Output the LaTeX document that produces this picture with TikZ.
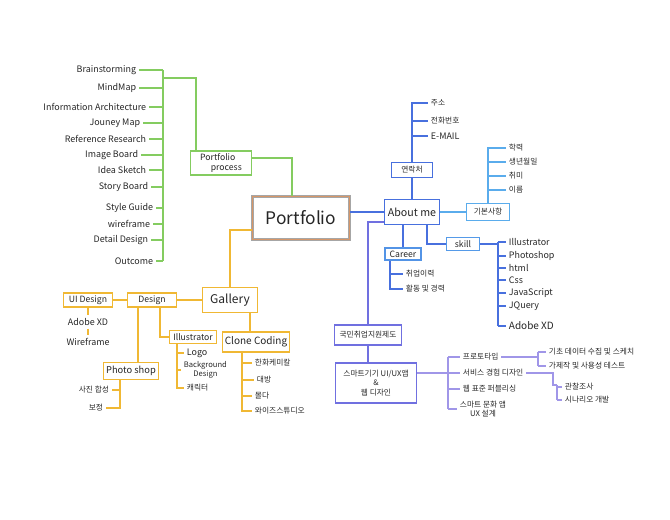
\documentclass[tikz,border=0pt]{standalone}
\usepackage{fontspec}
\setmainfont{Noto Sans CJK KR}
\usetikzlibrary{positioning}
\definecolor{grn}{RGB}{132,204,96}
\definecolor{org}{RGB}{240,184,52}
\definecolor{blu}{RGB}{72,112,222}
\definecolor{lblu}{RGB}{90,172,236}
\definecolor{pur}{RGB}{112,112,224}
\definecolor{lpur}{RGB}{160,150,232}
\tikzset{
  item/.style={inner sep=2pt, text=black!85, font=\fontsize{6.7}{7.5}\selectfont},
  kitem/.style={item, font=\fontsize{5.8}{6.8}\selectfont},
  box/.style={draw, line width=1pt, fill=white, inner sep=2pt, text=black!85, align=center, font=\fontsize{6.5}{7.5}\selectfont},
  gbox/.style={box, draw=grn},
  obox/.style={box, draw=org},
  bbox/.style={box, draw=blu},
  lbbox/.style={box, draw=lblu},
  pbox/.style={box, draw=pur},
  gline/.style={draw=grn, line width=1.3pt},
  oline/.style={draw=org, line width=1.3pt},
  bline/.style={draw=blu, line width=1.3pt},
  lbline/.style={draw=lblu, line width=1.3pt},
  pline/.style={draw=pur, line width=1.3pt},
  lpline/.style={draw=lpur, line width=1.3pt}
}
\begin{document}
\begin{tikzpicture}[x=0.75pt,y=0.75pt,yscale=-1,xscale=1]
\useasboundingbox (0,0) rectangle (670,520);

% Centre
\node[draw=gray!70, double={rgb,255:red,214;green,150;blue,104}, double distance=0.6pt, line width=0.8pt, fill=white, minimum width=73pt, minimum height=32pt, font=\fontsize{13}{15}\selectfont, text=black!85] (port) at (301,218) {Portfolio};

%% Portfolio process (green)
\node[item,anchor=east] (bs) at (139,70) {Brainstorming};
\node[item,anchor=east] (mm) at (139,88) {MindMap};
\node[item,anchor=east] (ia) at (149,107) {Information Architecture};
\node[item,anchor=east] (jm) at (143,123) {Jouney Map};
\node[item,anchor=east] (rr) at (149,139) {Reference Research};
\node[item,anchor=east] (ib) at (141,155) {Image Board};
\node[item,anchor=east] (is) at (149,170) {Idea Sketch};
\node[item,anchor=east] (sb) at (151,187) {Story Board};
\node[item,anchor=east] (sg) at (156,208) {Style Guide};
\node[item,anchor=east] (wf) at (153,224) {wireframe};
\node[item,anchor=east] (dd) at (151,240) {Detail Design};
\node[item,anchor=east] (oc) at (156,261) {Outcome};
\coordinate (gtr) at (163,70);
\coordinate (gbr) at (163,78);
\draw[gline] (gtr) -- (gtr |- oc.east);
\foreach \n in {bs,mm,ia,jm,rr,ib,is,sb,sg,wf,dd,oc}
  \draw[gline] (\n.east) -- (gtr |- \n.east);

\node[gbox, align=left, minimum width=46pt] (pp) at (221,163) {Portfolio\\\hspace{8pt}process};
\draw[gline] (gbr) -| ([xshift=-19pt]pp.north);
\draw[gline] ([yshift=-4pt]pp.east) -| ([xshift=-7pt]port.north);

%% Gallery (orange)
\node[obox, font=\fontsize{9}{10}\selectfont, minimum width=41pt, minimum height=19pt] (gal) at (230,300) {Gallery};
\node[obox, minimum width=37pt] (des) at (152,300) {Design};
\node[obox, minimum width=37pt] (uid) at (88,300) {UI Design};
\node[item] (axd) at (88,322) {Adobe XD};
\node[item] (wfr) at (88,342) {Wireframe};
\node[obox, font=\fontsize{7}{8}\selectfont, minimum width=40pt, minimum height=13pt] (ps) at (131,371) {Photo shop};
\node[obox, minimum width=35pt] (ill) at (193,337) {Illustrator};
\node[obox, font=\fontsize{7.5}{9}\selectfont, minimum width=47pt, minimum height=15pt] (cc) at (256,342) {Clone Coding};

\draw[oline] ([yshift=9pt]port.west) -| (gal.north);
\draw[oline] (gal.west) -- (des.east);
\draw[oline] (des.west) -- (uid.east);
\draw[oline] (uid.south) -- (axd.north);
\draw[oline] (axd.south) -- (wfr.north);
\draw[oline] ([xshift=-10.5pt]des.south) -- ([xshift=5.25pt]ps.north);
\draw[oline] ([xshift=6pt]des.south) |- (ill.west);
\draw[oline] ([xshift=15pt]gal.south) -- ([xshift=-4.5pt]cc.north);

% Photo shop
\node[kitem,anchor=east] (sp) at (112,390) {사진 합성};
\node[kitem,anchor=east] (bj) at (106,408) {보정};
\coordinate (pstr) at (120,0);
\draw[oline] (pstr |- ps.south) |- (bj.east);
\draw[oline] (sp.east) -- (pstr |- sp.east);

% Illustrator
\node[item,anchor=west] (logo) at (184,353) {Logo};
\node[item,anchor=west,align=center,font=\fontsize{5.7}{6.2}\selectfont] (bg) at (181,370) {Background\\Design};
\node[kitem,anchor=west] (chr) at (184,388) {캐릭터};
\coordinate (iltr) at (177,0);
\draw[oline] (iltr |- ill.south) |- (chr.west);
\foreach \n in {logo,bg}
  \draw[oline] (iltr |- \n.west) -- (\n.west);

% Clone Coding
\node[kitem,anchor=west] (hw) at (252,363) {한화케미칼};
\node[kitem,anchor=west] (db) at (254,380) {대방};
\node[kitem,anchor=west] (md) at (252,396) {몰다};
\node[kitem,anchor=west] (wz) at (252,411) {와이즈스튜디오};
\coordinate (cctr) at (242,0);
\draw[oline] (cctr |- cc.south) |- (wz.west);
\foreach \n in {hw,db,md}
  \draw[oline] (cctr |- \n.west) -- (\n.west);

%% About me (blue)
\node[bbox, font=\fontsize{8}{9}\selectfont, minimum width=41pt, minimum height=19pt] (abt) at (412,212) {About me};
\draw[bline] ([yshift=-4.5pt]port.east) -- (abt.west);

% contact
\node[bbox, font=\fontsize{5.8}{6.8}\selectfont, minimum width=31pt, minimum height=11pt] (yr) at (412,170) {연락처};
\node[kitem,anchor=west] (ad) at (428,103) {주소};
\node[kitem,anchor=west] (ph) at (428,121) {전화번호};
\node[item,anchor=west] (em) at (428,136) {E-MAIL};
\draw[bline] (abt.north) -- (yr.south);
\draw[bline] (yr.north) |- (ad.west);
\foreach \n in {ph,em}
  \draw[bline] (yr.north |- \n.west) -- (\n.west);

% basic info
\node[lbbox, font=\fontsize{5.8}{6.8}\selectfont, minimum width=32pt, minimum height=13pt] (gb) at (488,212) {기본사항};
\node[kitem,anchor=west] (edu) at (506,148) {학력};
\node[kitem,anchor=west] (bd) at (506,162) {생년월일};
\node[kitem,anchor=west] (hb) at (506,176) {취미};
\node[kitem,anchor=west] (nm) at (506,190) {이름};
\draw[lbline] (abt.east) -- (gb.west);
\draw[lbline] (gb.north) |- (edu.west);
\foreach \n in {bd,hb,nm}
  \draw[lbline] (gb.north |- \n.west) -- (\n.west);

% skill
\node[bbox, draw=lblu!70!blu, minimum width=25pt] (sk) at (463,244) {skill};
\node[item,anchor=west] (s1) at (506,242) {Illustrator};
\node[item,anchor=west] (s2) at (506,256) {Photoshop};
\node[item,anchor=west] (s3) at (506,268) {html};
\node[item,anchor=west] (s4) at (506,280) {Css};
\node[item,anchor=west] (s5) at (506,293) {JavaScript};
\node[item,anchor=west] (s6) at (506,306) {JQuery};
\node[item,anchor=west,font=\fontsize{7.5}{8}\selectfont] (s7) at (506,326) {Adobe XD};
\coordinate (sktr) at (498,0);
\draw[bline] ([xshift=11pt]abt.south) |- (sk.west);
\draw[bline] (sk.east) -- (sktr |- sk.east);
\draw[bline] (sktr |- s1.west) -- (sktr |- s7.west);
\foreach \n in {s1,s2,s3,s4,s5,s6,s7}
  \draw[bline] (sktr |- \n.west) -- (\n.west);

% career
\node[bbox, draw=lblu!60!blu, minimum width=27pt] (car) at (403,254) {Career};
\node[kitem,anchor=west] (c1) at (403,274) {취업이력};
\node[kitem,anchor=west] (c2) at (403,289) {활동 및 경력};
\coordinate (cartr) at (390,0);
\draw[bline] (car.north |- abt.south) -- (car.north);
\draw[bline] (cartr |- car.south) |- (c2.west);
\draw[bline] (cartr |- c1.west) -- (c1.west);

%% Course (purple)
\node[pbox, font=\fontsize{5.8}{6.8}\selectfont, minimum width=50pt, minimum height=15pt] (kuk) at (368,335) {국민취업지원제도};
\node[pbox, font=\fontsize{5.8}{7.2}\selectfont, minimum width=61pt, minimum height=30pt] (sm) at (376,383) {스마트기기 UI/UX앱\\\&\\웹 디자인};
\draw[pline] ([yshift=7.5pt]abt.west) -| (kuk.north);
\draw[pline] (kuk.south) -- (kuk.south |- sm.north);

\node[kitem,anchor=west] (pt) at (460,357) {프로토타입};
\node[kitem,anchor=west] (svc) at (460,373) {서비스 경험 디자인};
\node[kitem,anchor=west] (wp) at (460,389) {웹 표준 퍼블리싱};
\node[kitem,anchor=west,align=center] (ux) at (457,409) {스마트 문화 앱\\UX 설계};
\coordinate (smtr) at (448,373);
\draw[lpline] ([yshift=-7.5pt]sm.east) -- (smtr);
\draw[lpline] (smtr |- pt.west) -- (smtr |- ux.west);
\foreach \n in {pt,svc,wp,ux}
  \draw[lpline] (smtr |- \n.west) -- (\n.west);

% prototype
\node[kitem,anchor=west] (gi) at (546,352) {기초 데이터 수집 및 스케치};
\node[kitem,anchor=west] (gj) at (546,366) {가제작 및 사용성 테스트};
\coordinate (ptbr) at (538,357);
\draw[lpline] (pt.east) -- (ptbr);
\draw[lpline] (ptbr |- gi.west) -- (ptbr |- gj.west);
\foreach \n in {gi,gj}
  \draw[lpline] (ptbr |- \n.west) -- (\n.west);

% service design
\node[kitem,anchor=west] (gc) at (562,387) {관찰조사};
\node[kitem,anchor=west] (sn) at (562,400) {시나리오 개발};
\coordinate (svk) at (553,373);
\coordinate (svbr) at (557,385);
\draw[lpline] (svc.east) -- (svk) |- (svbr);
\draw[lpline] (svbr) -- (svbr |- sn.west);
\foreach \n in {gc,sn}
  \draw[lpline] (svbr |- \n.west) -- (\n.west);

\end{tikzpicture}
\end{document}
